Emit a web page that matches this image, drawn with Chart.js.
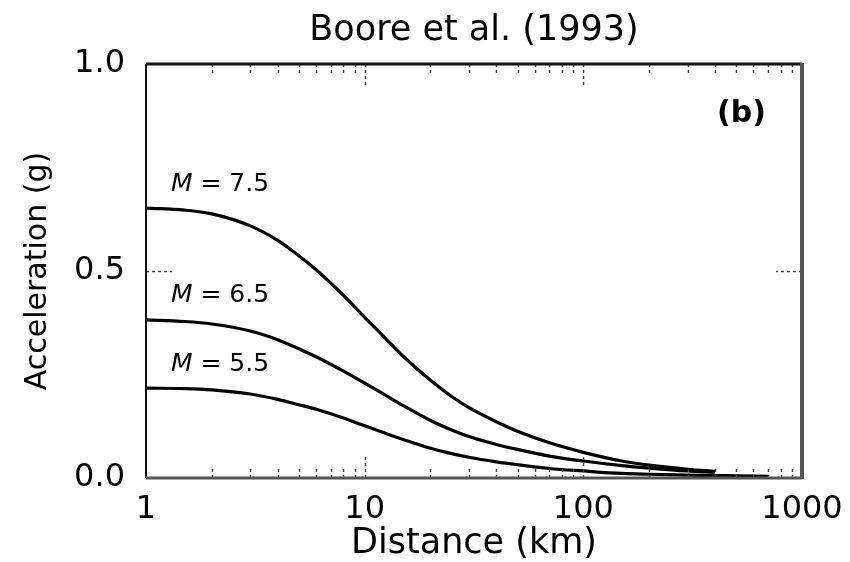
<!DOCTYPE html>
<html>
<head>
<meta charset="utf-8">
<script src="https://cdn.jsdelivr.net/npm/chart.js@4.4.1/dist/chart.umd.min.js"></script>
<style>
  html, body { margin: 0; background: #fff; }
  #wrap { width: 850px; height: 562px; }
</style>
</head>
<body>
<div id="wrap"><canvas id="chart" width="850" height="562"></canvas></div>
<script>
// distances (km) and peak acceleration (g)
const distances = [1, 1.5, 2, 3, 4, 5, 6, 8, 10, 12, 15, 20, 25, 30, 40, 50, 70, 100, 150, 200, 300, 400, 500, 700];
const accM75 = [0.652, 0.647, 0.638, 0.609, 0.574, 0.537, 0.503, 0.441, 0.388, 0.346, 0.294, 0.236, 0.197, 0.170, 0.136, 0.113, 0.085, 0.062, 0.041, 0.031, 0.021, 0.016, null, null];
const accM65 = [0.382, 0.378, 0.372, 0.355, 0.334, 0.312, 0.293, 0.258, 0.229, 0.205, 0.175, 0.139, 0.116, 0.100, 0.081, 0.069, 0.053, 0.041, 0.030, 0.024, 0.017, 0.014, null, null];
const accM55 = [0.217, 0.216, 0.213, 0.203, 0.190, 0.177, 0.166, 0.145, 0.126, 0.111, 0.093, 0.072, 0.059, 0.050, 0.039, 0.032, 0.023, 0.017, 0.011, 0.009, 0.007, 0.006, 0.005, 0.004];
const magnitudes = ['7.5', '6.5', '5.5'];
const xTicks = [1, 10, 100, 1000];
const yTicks = [0, 0.5, 1];

const FONT = 'DejaVu Sans';

function toPoints(values) {
    return distances.map((d, i) => ({ x: d, y: values[i] })).filter(p => p.y !== null);
}

const series = [accM75, accM65, accM55];

const overlay = {
    id: 'overlay',
    afterDraw(chart) {
        const ctx = chart.ctx;
        const { left, right, top, bottom } = chart.chartArea;
        const xs = chart.scales.x;
        const ys = chart.scales.y;
        ctx.save();

        // small inward ticks, dotted like the scan
        ctx.strokeStyle = '#444';
        ctx.lineWidth = 1.5;
        ctx.setLineDash([3, 3]);
        for (let k = 0; k < 3; k++) {
            for (let m = 2; m <= 9; m++) {
                const px = Math.round(xs.getPixelForValue(m * Math.pow(10, k))) + 0.5;
                ctx.beginPath();
                ctx.moveTo(px, bottom); ctx.lineTo(px, bottom - 10);
                ctx.moveTo(px, top); ctx.lineTo(px, top + 10);
                ctx.stroke();
            }
        }
        [10, 100].forEach(v => {
            const px = Math.round(xs.getPixelForValue(v)) + 0.5;
            ctx.beginPath();
            ctx.moveTo(px, bottom); ctx.lineTo(px, bottom - 22);
            ctx.moveTo(px, top); ctx.lineTo(px, top + 22);
            ctx.stroke();
        });
        const py = Math.round(ys.getPixelForValue(0.5)) + 0.5;
        ctx.beginPath();
        ctx.moveTo(left, py); ctx.lineTo(left + 26, py);
        ctx.moveTo(right, py); ctx.lineTo(right - 26, py);
        ctx.stroke();
        ctx.setLineDash([]);

        // frame
        ctx.strokeStyle = '#111';
        ctx.lineWidth = 2;
        ctx.beginPath();
        ctx.moveTo(left, top); ctx.lineTo(left, bottom);
        ctx.stroke();
        ctx.lineWidth = 3;
        ctx.beginPath();
        ctx.moveTo(left, top); ctx.lineTo(right, top);
        ctx.stroke();
        ctx.strokeStyle = '#555';
        ctx.beginPath();
        ctx.moveTo(left, bottom); ctx.lineTo(right, bottom);
        ctx.stroke();
        ctx.lineWidth = 4;
        ctx.beginPath();
        ctx.moveTo(right, top - 1); ctx.lineTo(right, bottom + 1);
        ctx.stroke();

        // magnitude labels just above each curve's plateau
        ctx.fillStyle = '#000';
        ctx.textBaseline = 'alphabetic';
        ctx.textAlign = 'left';
        series.forEach((vals, i) => {
            const lx = xs.getPixelForValue(1.3);
            const ly = ys.getPixelForValue(vals[0] + 0.042);
            ctx.font = 'italic 25px "' + FONT + '"';
            ctx.fillText('M', lx, ly);
            const w = ctx.measureText('M').width;
            ctx.font = '25px "' + FONT + '"';
            ctx.fillText(' = ' + magnitudes[i], lx + w, ly);
        });

        // panel letter
        ctx.font = 'bold 30px "' + FONT + '"';
        ctx.textAlign = 'right';
        ctx.textBaseline = 'middle';
        ctx.fillText('(b)', right - 36, top + 50);

        // title
        ctx.font = '35px "' + FONT + '"';
        ctx.textAlign = 'center';
        ctx.fillText('Boore et al. (1993)', (left + right) / 2, 31);

        ctx.restore();
    }
};

new Chart(document.getElementById('chart'), {
    type: 'line',
    data: {
        datasets: series.map((vals, i) => ({
            label: 'M = ' + magnitudes[i],
            data: toPoints(vals),
            borderColor: '#000',
            borderWidth: 3.2,
            pointRadius: 0,
            cubicInterpolationMode: 'monotone',
            fill: false
        }))
    },
    options: {
        responsive: false,
        animation: false,
        layout: { padding: { top: 64, right: 48, left: 0, bottom: 0 } },
        plugins: { legend: { display: false }, tooltip: { enabled: false } },
        scales: {
            x: {
                type: 'logarithmic',
                min: 1,
                max: 1000,
                grid: { display: false, drawTicks: false },
                border: { display: false },
                afterBuildTicks: s => { s.ticks = xTicks.map(v => ({ value: v })); },
                afterFit: s => { s.height = 84; s.paddingLeft = 0; s.paddingRight = 0; },
                ticks: {
                    autoSkip: false,
                    maxRotation: 0,
                    padding: 12,
                    color: '#000',
                    font: { family: FONT, size: 32 },
                    callback: v => String(v)
                },
                title: {
                    display: true,
                    text: 'Distance (km)',
                    color: '#000',
                    font: { family: FONT, size: 35, lineHeight: 1 },
                    padding: { top: 0, bottom: 1 }
                }
            },
            y: {
                min: 0,
                max: 1,
                grid: { display: false, drawTicks: false },
                border: { display: false },
                afterBuildTicks: s => { s.ticks = yTicks.map(v => ({ value: v })); },
                afterFit: s => { s.width = 146; s.paddingTop = 0; s.paddingBottom = 0; },
                ticks: {
                    padding: 21,
                    color: '#000',
                    font: { family: FONT, size: 32 },
                    callback: v => v.toFixed(1)
                },
                title: {
                    display: true,
                    text: 'Acceleration (g)',
                    color: '#000',
                    font: { family: FONT, size: 30, lineHeight: 1.2 },
                    padding: { top: 20, bottom: 0 }
                }
            }
        }
    },
    plugins: [overlay]
});
</script>
</body>
</html>
